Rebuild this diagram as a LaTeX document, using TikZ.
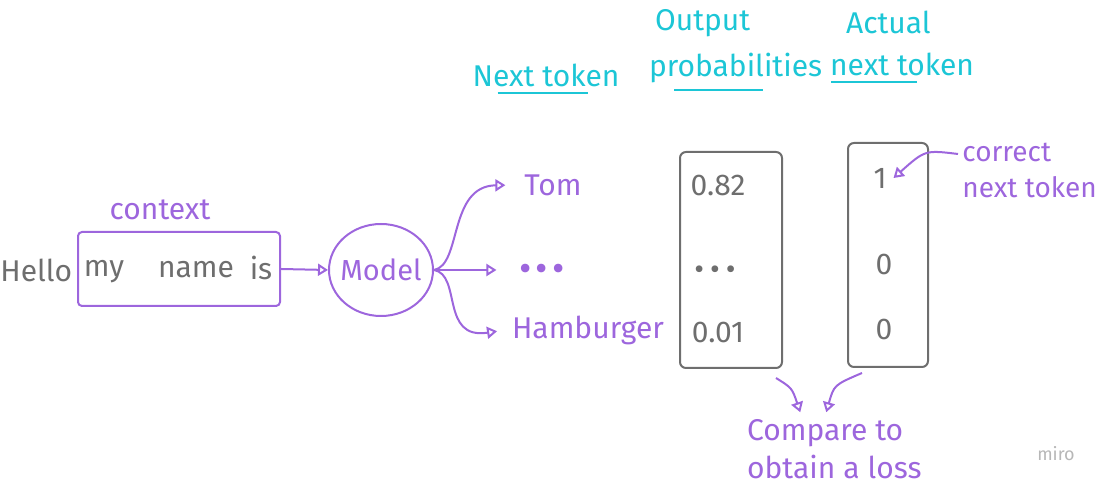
\documentclass[tikz,border=0pt]{standalone}
\usepackage{fontspec}
\setmainfont{Fira Sans}
\usepackage{tikz}
\usetikzlibrary{arrows.meta,shapes.geometric}
\definecolor{lilac}{HTML}{9D66DD}
\definecolor{pencil}{HTML}{6E6E6E}
\definecolor{aqua}{HTML}{1CC6D6}
\tikzset{
  hand/.style={font=\fontsize{15}{19}\selectfont},
  lilacline/.style={draw=lilac,line width=1pt},
  greyline/.style={draw=pencil,line width=1pt},
  opentip/.style={-{Triangle[open,length=5pt,width=6pt]},lilacline},
  underl/.style={draw=aqua,line width=1pt},
}

\begin{document}
\begin{tikzpicture}[x=0.5pt,y=-0.5pt,hand]
  \useasboundingbox (0,0) rectangle (1100,485);
  \node[text=pencil,anchor=west,inner sep=0pt] (hello) at (0,270) {Hello};
  \node[lilacline,minimum width=101pt,minimum height=37pt,rounded corners=2pt] (ctx) at (179,269) {};
  \node[text=pencil] (my) at (104,272) {my};
  \node[text=pencil] (name) at (196,270) {name};
  \node[text=pencil] (is) at (261,268) {is};
  \node[text=lilac] (ctxlab) at (160,210) {context};
  \node[ellipse,lilacline,text=lilac,minimum width=52pt,minimum height=46pt,inner sep=-8pt,font=\fontsize{14.5}{18}\selectfont] (model) at (381,270) {Model};
  \draw[opentip] (ctx.east) -- (model.west);
  \node[text=lilac] (tom) at (553,185) {Tom};
  \node[text=lilac,font=\fontsize{19}{19}\selectfont] (dots) at (542,273) {\textbullet\hspace{2pt}\textbullet\hspace{2pt}\textbullet};
  \node[text=lilac] (ham) at (588,330) {Hamburger};
  \draw[opentip,shorten >=6pt] (model.east) .. controls (462,265) and (448,186) .. (tom.west);
  \draw[opentip,shorten >=8pt] (model.east) -- (dots.west |- model.east);
  \draw[opentip,shorten >=4pt] (model.east) .. controls (462,275) and (440,340) .. (ham.west);

  \node[greyline,minimum width=51pt,minimum height=108pt,rounded corners=3pt] (prob) at (731,260) {};
  \node[text=pencil] (p1) at (718,186) {0.82};
  \node[text=pencil] (p2) at (715,273) {\textbullet\hspace{3pt}\textbullet\hspace{3pt}\textbullet};
  \node[text=pencil] (p3) at (718,333) {0.01};
  \node[greyline,minimum width=40pt,minimum height=112pt,rounded corners=3pt] (act) at (888,255) {};
  \node[text=pencil] (one) at (880,178) {1};
  \node[text=pencil] (a2) at (884,265) {0};
  \node[text=pencil] (a3) at (884,330) {0};

  \node[text=lilac,align=left,anchor=west,inner sep=2pt,font=\fontsize{14}{18}\selectfont] (corr) at (958,170) {correct\\next token};
  \draw[opentip] ([yshift=8pt]corr.west) .. controls (925,150) .. (one.east);

  \node[text=lilac,align=left,anchor=west] (cmp) at (740,449) {Compare to\\obtain a loss};
  \coordinate (pa) at (776,378);
  \coordinate (pb) at (862,373);
  \draw[opentip] (pa) .. controls (792,388) .. ([xshift=-17pt]cmp.north);
  \draw[opentip] (pb) .. controls (834,385) .. ([xshift=-4pt]cmp.north);

  \node[text=aqua] (nexthd) at (546,75) {Next token};
  \draw[underl,shorten <=16pt,shorten >=19pt] (nexthd.south west) -- (nexthd.south east);
  \node[text=aqua,align=left,anchor=west] (outhd) at (642,46) {\hspace*{3pt}Output\\[4pt]probabilities};
  \draw[underl,shorten <=16pt,shorten >=33pt] (outhd.south west) -- (outhd.south east);
  \node[text=aqua,align=left,anchor=west] (acthd) at (823,43) {\hspace*{8pt}Actual\\[2pt]next token};
  \draw[underl,shorten <=4pt,shorten >=32pt] (acthd.south west) -- (acthd.south east);

  \node[text=pencil!50,font=\fontsize{9}{11}\selectfont] (miro) at (1056,454) {miro};
\end{tikzpicture}
\end{document}
